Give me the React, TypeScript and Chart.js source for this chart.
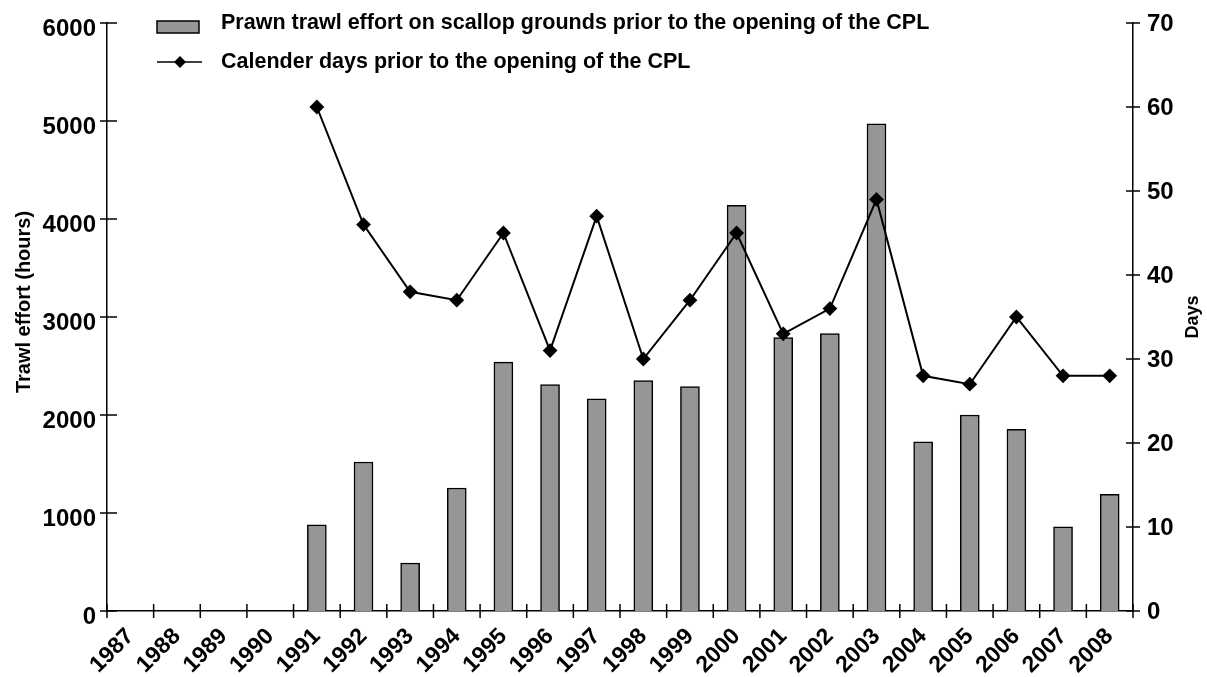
import React, { useEffect, useRef } from 'react';
import { Chart, registerables } from 'chart.js';

Chart.register(...registerables);

const FONT = '"Liberation Sans", Arial, Helvetica, sans-serif';

const years = ['1987', '1988', '1989', '1990', '1991', '1992', '1993', '1994', '1995', '1996', '1997', '1998', '1999', '2000', '2001', '2002', '2003', '2004', '2005', '2006', '2007', '2008'];
const effortHours = [0, 0, 0, 0, 880, 1520, 490, 1255, 2540, 2310, 2165, 2350, 2290, 4140, 2790, 2830, 4970, 1725, 2000, 1855, 860, 1190];
const calendarDays = [null, null, null, null, 60, 46, 38, 37, 45, 31, 47, 30, 37, 45, 33, 36, 49, 28, 27, 35, 28, 28];

const barLabel = 'Prawn trawl effort on scallop grounds prior to the opening of the CPL';
const lineLabel = 'Calender days prior to the opening of the CPL';
const leftTitle = 'Trawl effort (hours)';
const rightTitle = 'Days';

const BAR_FILL = '#969696';

const overlay = {
  id: 'overlay',
  afterDraw(chart: any) {
    const ctx = chart.ctx;
    const { left, right, bottom } = chart.chartArea;
    const xs = chart.scales.x;
    const ys = chart.scales.y;
    const y1 = chart.scales.y1;
    ctx.save();
    ctx.strokeStyle = '#000';
    ctx.lineWidth = 1.5;
    ctx.beginPath();
    ys.ticks.forEach((t: any) => {
      const py = ys.getPixelForValue(t.value);
      ctx.moveTo(left - 7, py);
      ctx.lineTo(left + 10, py);
    });
    y1.ticks.forEach((t: any) => {
      const py = y1.getPixelForValue(t.value);
      ctx.moveTo(right - 7, py);
      ctx.lineTo(right + 7, py);
    });
    const n = years.length;
    const w = (xs.right - xs.left) / n;
    for (let i = 0; i <= n; i++) {
      const px = xs.left + i * w;
      ctx.moveTo(px, bottom - 7);
      ctx.lineTo(px, bottom + 7);
    }
    ctx.stroke();

    // legend
    ctx.fillStyle = BAR_FILL;
    ctx.fillRect(157, 21, 42, 12);
    ctx.lineWidth = 1.5;
    ctx.strokeRect(157, 21, 42, 12);
    ctx.beginPath();
    ctx.moveTo(157, 62);
    ctx.lineTo(202, 62);
    ctx.stroke();
    ctx.fillStyle = '#000';
    ctx.beginPath();
    ctx.moveTo(180, 56);
    ctx.lineTo(186, 62);
    ctx.lineTo(180, 68);
    ctx.lineTo(174, 62);
    ctx.closePath();
    ctx.fill();
    ctx.font = 'bold 21.5px ' + FONT;
    ctx.textAlign = 'left';
    ctx.textBaseline = 'middle';
    ctx.fillText(barLabel, 221, 23);
    ctx.fillText(lineLabel, 221, 62);

    // axis titles
    ctx.font = 'bold 20px ' + FONT;
    ctx.textAlign = 'center';
    ctx.save();
    ctx.translate(24, 302);
    ctx.rotate(-Math.PI / 2);
    ctx.fillText(leftTitle, 0, 0);
    ctx.restore();
    ctx.font = 'bold 18px ' + FONT;
    ctx.save();
    ctx.translate(1193, 317);
    ctx.rotate(-Math.PI / 2);
    ctx.fillText(rightTitle, 0, 0);
    ctx.restore();
    ctx.restore();
  },
};

const noPad = (s: any) => {
  s.paddingTop = 0;
  s.paddingBottom = 0;
};

export default function App() {
  const ref = useRef<HTMLCanvasElement>(null);
  useEffect(() => {
    if (!ref.current) return;
    const chart = new Chart(ref.current, {
      type: 'bar',
      data: {
        labels: years,
        datasets: [
          {
            type: 'line',
            label: lineLabel,
            data: calendarDays,
            yAxisID: 'y1',
            borderColor: '#000',
            backgroundColor: '#000',
            borderWidth: 2,
            pointStyle: 'rectRot',
            pointRadius: 6,
            pointBackgroundColor: '#000',
            pointBorderColor: '#000',
            spanGaps: false,
            order: 0,
          } as any,
          {
            type: 'bar',
            label: barLabel,
            data: effortHours,
            yAxisID: 'y',
            backgroundColor: BAR_FILL,
            borderColor: '#000',
            borderWidth: 1.5,
            barThickness: 19,
            order: 1,
          } as any,
        ],
      },
      options: {
        responsive: false,
        animation: false,
        layout: { padding: { top: 23, left: 0, right: 0, bottom: 0 } },
        plugins: { legend: { display: false }, tooltip: { enabled: false } },
        scales: {
          x: {
            offset: true,
            grid: { display: false },
            border: { display: true, color: '#000', width: 1.5 },
            ticks: {
              autoSkip: false,
              maxRotation: 45,
              minRotation: 45,
              padding: 4,
              color: '#000',
              font: { family: FONT, size: 23, weight: 'bold' },
            },
            afterFit: (s: any) => {
              s.height = 66;
              s.paddingLeft = 0;
              s.paddingRight = 0;
            },
          },
          y: {
            position: 'left',
            min: 0,
            max: 6000,
            grid: { display: false },
            border: { display: true, color: '#000', width: 1.5 },
            ticks: {
              stepSize: 1000,
              padding: 3,
              labelOffset: 6,
              color: '#000',
              callback: (v: any) => String(v),
              font: { family: FONT, size: 24, weight: 'bold' },
            },
            afterFit: (s: any) => {
              s.width = 107;
              noPad(s);
            },
          },
          y1: {
            position: 'right',
            min: 0,
            max: 70,
            grid: { display: false },
            border: { display: true, color: '#000', width: 1.5 },
            ticks: {
              stepSize: 10,
              padding: 6,
              labelOffset: 1,
              color: '#000',
              callback: (v: any) => String(v),
              font: { family: FONT, size: 24, weight: 'bold' },
            },
            afterFit: (s: any) => {
              s.width = 74;
              noPad(s);
            },
          },
        },
      } as any,
      plugins: [overlay],
    });
    return () => chart.destroy();
  }, []);
  return (
    <div style={{ position: 'fixed', left: 0, top: 0, width: 1207, height: 677, background: '#fff' }}>
      <canvas ref={ref} width={1207} height={677} />
    </div>
  );
}
